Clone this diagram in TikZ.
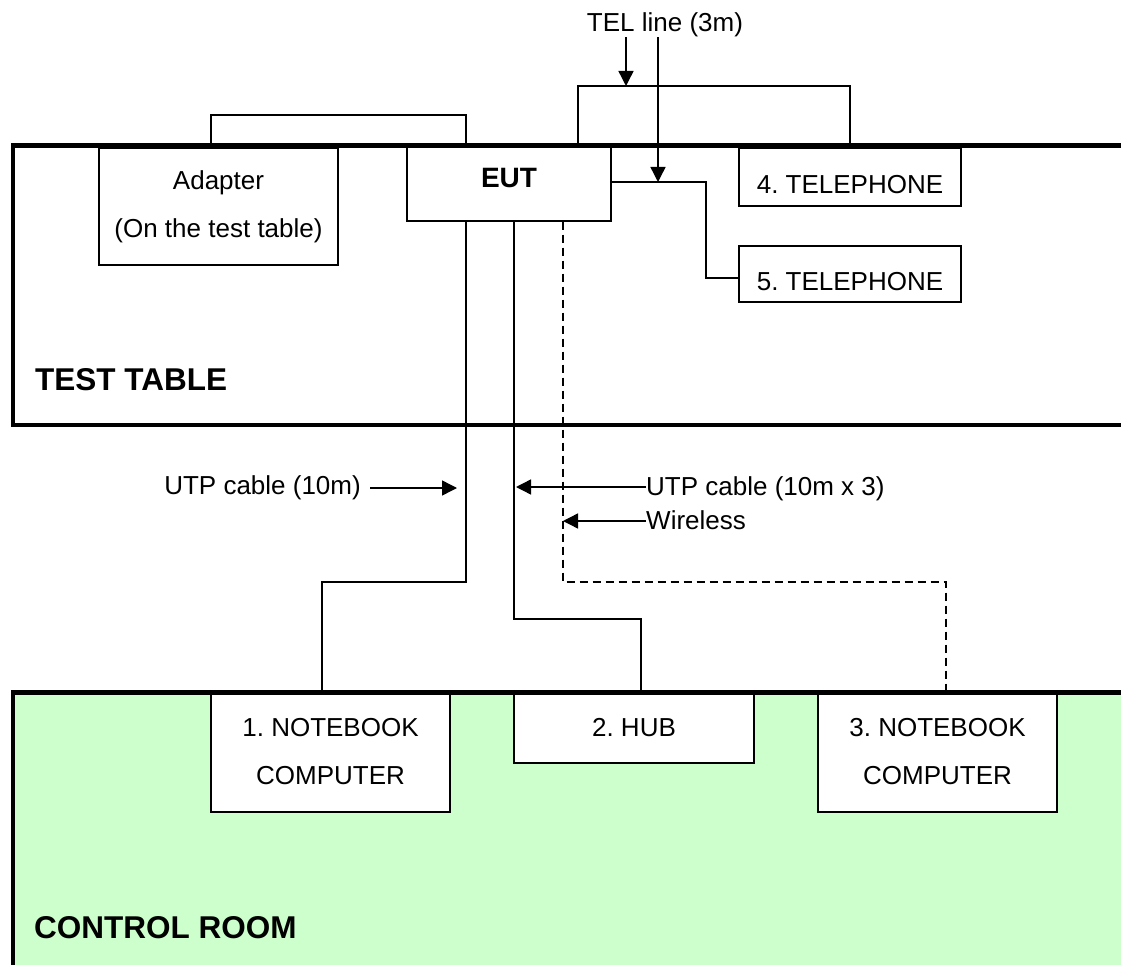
\documentclass[tikz,border=0pt]{standalone}
\usepackage{fontspec}
\setmainfont{Liberation Sans}
\usetikzlibrary{arrows.meta}
\definecolor{roomgreen}{HTML}{CCFFCC}
\frenchspacing
\begin{document}
\frenchspacing
\begin{tikzpicture}[x=1pt,y=-1pt,
 box/.style={draw, line width=1.4pt, fill=white, inner sep=0pt, align=center, font=\fontsize{26}{48}\selectfont},
 frame/.style={line width=4.5pt},
 cable/.style={line width=1.4pt},
 wless/.style={line width=1.4pt, dash pattern=on 8pt off 5pt},
 arr/.style={line width=1.4pt, -{Triangle[length=15pt,width=15pt]}},
 lbl/.style={inner sep=0pt, font=\fontsize{26}{30}\selectfont},
 room/.style={inner sep=0pt, anchor=west, font=\fontsize{31.5}{36}\selectfont\bfseries}]
\useasboundingbox (0,0) rectangle (1121,965);
\clip (0,0) rectangle (1121,965);
\fill[roomgreen] (13,692.5) rectangle (1130,975);
% boxes
\node[box, minimum width=239pt, minimum height=117pt] (adapter) at (218.5,206.5) {Adapter\\(On the test table)};
\node[box, minimum width=204pt, minimum height=76pt, font=\fontsize{28}{32}\selectfont\bfseries, text height=10pt, text depth=0pt] (eut) at (509,183) {EUT};
\node[box, minimum width=222pt, minimum height=58pt, text height=33pt, text depth=0pt] (tel4) at (850,177) {4. TELEPHONE};
\node[box, minimum width=222pt, minimum height=56pt, text height=33pt, text depth=0pt] (tel5) at (850,274) {5. TELEPHONE};
\node[box, minimum width=239pt, minimum height=120pt] (nb1) at (330.5,752) {1. NOTEBOOK\\COMPUTER};
\node[box, minimum width=240pt, minimum height=71pt] (hub) at (634,727.5) {2. HUB};
\node[box, minimum width=239pt, minimum height=120pt] (nb3) at (937.5,752) {3. NOTEBOOK\\COMPUTER};
% frames
\draw[frame] (1130,145.5) -- (13,145.5) -- (13,425) -- (1130,425);
\draw[frame] (1130,692.5) -- (13,692.5) -- (13,975);
\node[room] (testlbl) at (35,380) {TEST TABLE};
\node[room] (crlbl) at (34,928) {CONTROL ROOM};
% upper connectors
\coordinate (adup) at (211,115);
\draw[cable] ([xshift=-7.5pt]adapter.north) -- (adup) -| ([xshift=-43pt]eut.north);
\coordinate (telmid) at (626,86);
\draw[cable] ([xshift=69pt]eut.north) |- (telmid) -| (tel4.north);
\coordinate (t5bend) at (706,230);
\draw[cable] ([yshift=1pt]eut.east) -| (t5bend) |- ([yshift=-4pt]tel5.west);
\coordinate (telhit) at (658,182);
\node[lbl] (tellbl) at (665,25) {TEL line (3m)};
\draw[arr] (telmid |- tellbl.south) -- (telmid);
\draw[arr] (telhit |- tellbl.south) -- (telhit);
% lower connectors
\coordinate (l1b) at (322,582);
\draw[cable] ([xshift=-43pt]eut.south) |- (l1b) -- ([xshift=-8.5pt]nb1.north);
\coordinate (l2b) at (641,619);
\draw[cable] ([xshift=5pt]eut.south) |- (l2b) -- ([xshift=7pt]hub.north);
\coordinate (l3b) at (946,582);
\draw[wless] ([xshift=54pt]eut.south) |- (l3b) -- ([xshift=8.5pt]nb3.north);
% labels
\node[lbl, anchor=east] (utp1) at (361,488) {UTP cable (10m)};
\coordinate (utp1tip) at (457,488);
\draw[arr] ([xshift=9pt]utp1.east) -- (utp1tip);
\node[lbl, anchor=west] (utp3) at (646,489) {UTP cable (10m x 3)};
\coordinate (utp3tip) at (516,487);
\draw[arr] (utp3.west |- utp3tip) -- (utp3tip);
\node[lbl, anchor=west] (wlbl) at (646,520) {Wireless};
\coordinate (wtip) at (563,521);
\draw[arr] (wlbl.west |- wtip) -- (wtip);
\end{tikzpicture}
\end{document}
